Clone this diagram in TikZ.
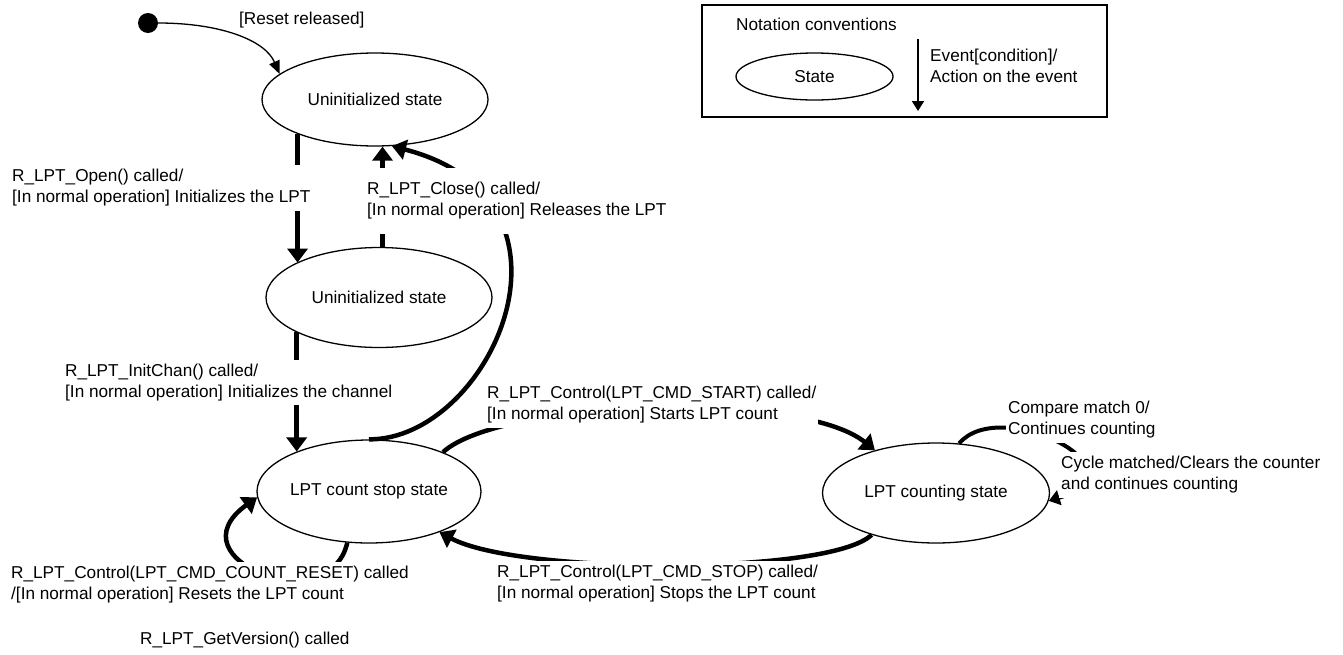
\documentclass[tikz,border=0pt]{standalone}
\usepackage{fontspec}
\setmainfont{Liberation Sans}
\usetikzlibrary{shapes.geometric,arrows.meta}
\begin{document}
\begin{tikzpicture}[x=1pt,y=-1pt,font=\fontsize{17.2}{21}\selectfont,
 stateell/.style={draw,ellipse,line width=1.3pt,inner sep=0pt,minimum width=226pt,minimum height=100pt},
 lab/.style={anchor=west,align=left,fill=white,inner xsep=2pt,inner ysep=4pt},
 fat/.style={line width=4.5pt,-{Triangle[length=14pt,width=20pt]}}]
\useasboundingbox (0,0) rectangle (1343,654);
% states
\node (uninit) at (375,99.5)[stateell,minimum height=93pt]{Uninitialized state};
\node (opened) at (379,297.5)[stateell]{Uninitialized state};
\node (stop) at (369,491.5)[stateell,minimum width=224pt,minimum height=103pt]{LPT count stop state};
\node (count) at (936,493)[stateell,minimum width=227pt]{LPT counting state};
\node (init) at (148,23)[circle,fill,inner sep=0pt,minimum size=20pt]{};
% transitions
\draw[line width=1.3pt,-{Triangle[length=13pt,width=11pt]}](init.east) .. controls (220,23) and (265,40) .. (uninit.165);
\draw[fat](uninit.-156) -- (uninit.-156 |- opened.157);
\draw[fat](opened.86) -- (opened.86 |- uninit.south);
\draw[fat](stop.north) .. controls (490,440) and (600,200) .. (uninit.-70);
\draw[fat](opened.-157) -- (opened.-157 |- stop.151);
\draw[fat](stop.28) .. controls (500,400) and (800,390) .. (count.145);
\draw[fat](count.-147) .. controls (830,575) and (520,575) .. (stop.-30);
\draw[fat](stop.-113) .. controls (330,620) and (170,560) .. (stop.-177);
\draw[line width=4pt,-{Triangle[length=11pt,width=15pt]}](count.65) .. controls (1000,395) and (1150,470) .. (count.-4);
% labels
\node (lreset) at (237,20)[anchor=west,inner sep=2pt]{[Reset released]};
\node (lopen) at (10,188)[lab]{R\_LPT\_Open() called/\\{}[In normal operation] Initializes the LPT};
\node (lclose) at (365,201)[lab,inner ysep=14pt]{R\_LPT\_Close() called/\\{}[In normal operation] Releases the LPT};
\node (linit) at (63,382.5)[lab]{R\_LPT\_InitChan() called/\\{}[In normal operation] Initializes the channel};
\node (lstart) at (485,405)[lab]{R\_LPT\_Control(LPT\_CMD\_START) called/\\{}[In normal operation] Starts LPT count};
\node (lstop) at (495,584)[lab]{R\_LPT\_Control(LPT\_CMD\_STOP) called/\\{}[In normal operation] Stops the LPT count};
\node (lreset2) at (9,584.5)[lab]{R\_LPT\_Control(LPT\_CMD\_COUNT\_RESET) called\\/[In normal operation] Resets the LPT count};
\node (lver) at (138,640)[anchor=west,inner sep=2pt]{R\_LPT\_GetVersion() called};
\node (lcmp) at (1006,420)[lab]{Compare match 0/\\Continues counting};
\node (lcyc) at (1059,475)[lab]{Cycle matched/Clears the counter\\and continues counting};
% notation conventions
\node (legend) at (904.5,61)[draw,line width=1.5pt,minimum width=405pt,minimum height=112pt,inner sep=0pt]{};
\node (ltitle) at (734,24)[anchor=west,inner sep=2pt]{Notation conventions};
\node (lstate) at (814.5,76.5)[stateell,minimum width=157pt,minimum height=47pt]{State};
\coordinate (evtop) at (918,39);
\coordinate (evbot) at (918,111);
\draw[line width=1.8pt,-{Triangle[length=10pt,width=12pt]}](evtop) -- (evbot);
\node (levent) at (928,65.5)[anchor=west,align=left,inner sep=2pt]{Event[condition]/\\Action on the event};
\end{tikzpicture}
\end{document}
